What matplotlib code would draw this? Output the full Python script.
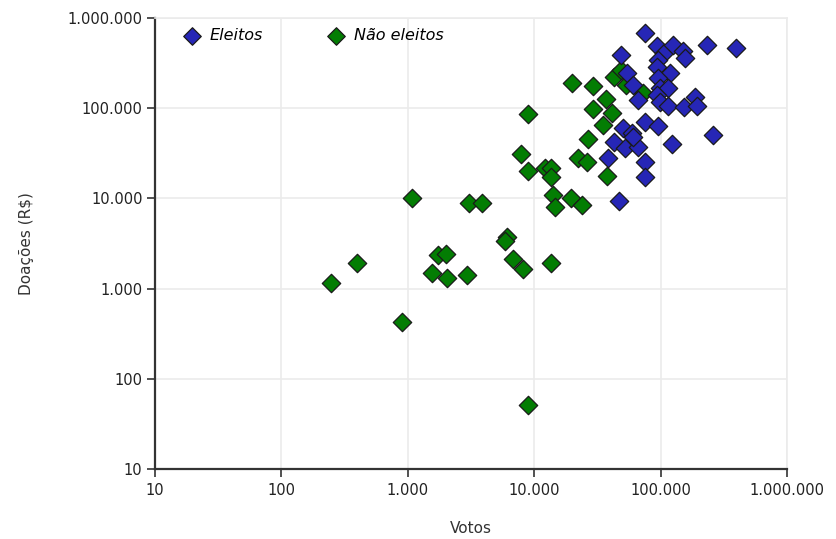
import matplotlib.pyplot as plt
from matplotlib.ticker import FixedLocator, FuncFormatter, NullLocator

# Eleitos (votos, doações R$)
eleitos_votos = [75000, 232000, 393000, 48300, 93000, 106000, 126000, 151000,
                 156000, 96000, 93000, 119000, 54000, 61000, 96000, 99000,
                 115000, 93000, 66600, 99000, 115000, 153000, 187000, 195000,
                 75000, 96000, 50700, 59000, 42800, 52000, 66600, 122000,
                 258000, 38600, 75000, 75000, 47000, 61000]
eleitos_doacoes = [676000, 500000, 461000, 389000, 490000, 412000, 500000, 434000,
                   357000, 342000, 289000, 244000, 244000, 181000, 215000, 166000,
                   166000, 140000, 123000, 118000, 106000, 102000, 134000, 106000,
                   71000, 63500, 60000, 52700, 42500, 36000, 37400, 40000,
                   50500, 27800, 25500, 17100, 9400, 48000]

# Não eleitos
nao_votos = [1070, 3070, 3850, 395, 245, 905, 9000, 1740, 2000, 1560, 2050, 2920,
             6050, 5870, 6840, 8100, 13500, 19800, 29000, 37000, 29400, 41000,
             35200, 9000, 26800, 7800, 22300, 26000, 9000, 12200, 13700, 13600,
             38000, 14000, 14600, 19500, 23700, 43000, 49000, 53000, 73000]
nao_doacoes = [10000, 8800, 8800, 1900, 1160, 430, 51, 2360, 2420, 1500, 1300, 1420,
               3760, 3400, 2110, 1640, 1900, 192000, 176000, 126000, 97000, 89000,
               65000, 85500, 45600, 31000, 28000, 25300, 20000, 21500, 22000, 17100,
               17700, 10900, 8000, 10000, 8450, 222000, 265000, 181000, 146000]

decades = [10, 100, 1000, 10000, 100000, 1000000]

BLUE = "#2626B6"
GREEN = "#037D03"
EDGE = "#1A1A1A"
GRID = "#EBEBEB"
AXIS = "#333333"

plt.rcParams["font.family"] = ["DejaVu Sans"]

fig = plt.figure(figsize=(8.36, 5.39), dpi=100, facecolor="white")
ax = fig.add_axes([0.1854, 0.1299, 0.7560, 0.8367])

ax.scatter(nao_votos, nao_doacoes, marker="D", s=88, color=GREEN,
           edgecolors=EDGE, linewidths=0.9, zorder=3, label="Não eleitos")
ax.scatter(eleitos_votos, eleitos_doacoes, marker="D", s=88, color=BLUE,
           edgecolors=EDGE, linewidths=0.9, zorder=4, label="Eleitos")

ax.set_xscale("log")
ax.set_yscale("log")
ax.set_xlim(10, 1000000)
ax.set_ylim(10, 1000000)

fmt = FuncFormatter(lambda v, _: f"{int(round(v)):,}".replace(",", "."))
for axis in (ax.xaxis, ax.yaxis):
    axis.set_major_locator(FixedLocator(decades))
    axis.set_minor_locator(NullLocator())
    axis.set_major_formatter(fmt)

ax.grid(True, color=GRID, linewidth=1.2, zorder=0)
ax.set_axisbelow(True)

for side in ("top", "right"):
    ax.spines[side].set_color(GRID)
    ax.spines[side].set_linewidth(1.2)
for side in ("left", "bottom"):
    ax.spines[side].set_color(AXIS)
    ax.spines[side].set_linewidth(1.6)

ax.tick_params(axis="both", which="major", direction="out", length=6,
               width=1.2, color=AXIS, labelsize=10.5, labelcolor="#222222")
ax.tick_params(axis="x", pad=4)
ax.tick_params(axis="y", pad=3)

ax.set_xlabel("Votos", fontsize=11, color="#333333", labelpad=17)
ax.set_ylabel("Doações (R$)", fontsize=11, color="#333333", labelpad=24)

handles, labels = ax.get_legend_handles_labels()
leg = ax.legend(handles[::-1], labels[::-1], loc="upper left", ncol=2,
                frameon=False, bbox_to_anchor=(0.01, 1.01),
                handletextpad=0.1, columnspacing=3.6, markerscale=0.95,
                prop={"style": "italic", "size": 11.5})

fig.savefig("out.png", dpi=100, facecolor="white")
